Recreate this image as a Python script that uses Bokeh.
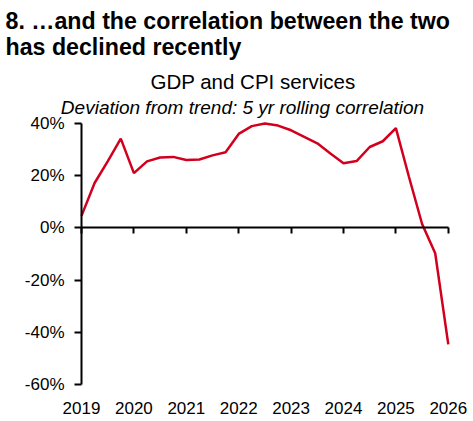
from bokeh.plotting import figure
from bokeh.models import (LinearAxis, FixedTicker, PrintfTickFormatter, Range1d,
                          Label, ColumnDataSource)
from bokeh.embed import file_html
from bokeh.resources import INLINE

# ---- data ----
quarters = ["2019Q1", "2019Q2", "2019Q3", "2019Q4",
            "2020Q1", "2020Q2", "2020Q3", "2020Q4",
            "2021Q1", "2021Q2", "2021Q3", "2021Q4",
            "2022Q1", "2022Q2", "2022Q3", "2022Q4",
            "2023Q1", "2023Q2", "2023Q3", "2023Q4",
            "2024Q1", "2024Q2", "2024Q3", "2024Q4",
            "2025Q1", "2025Q2", "2025Q3", "2025Q4",
            "2026Q1"]
correlation = [4.6, 17.2, 25.5, 34.2,
               21.0, 25.5, 27.0, 27.2,
               26.0, 26.2, 27.8, 29.0,
               36.0, 39.0, 40.0, 39.2,
               37.4, 34.9, 32.4, 28.5,
               24.8, 25.6, 31.0, 33.2,
               38.2, 19.5, 1.5, -9.7,
               -44.6]
year_ticks = [2019, 2020, 2021, 2022, 2023, 2024, 2025, 2026]
pct_ticks = [-60, -40, -20, 0, 20, 40]

title_lines = ["8. \u2026and the correlation between the two",
               "has declined recently"]
chart_title = "GDP and CPI services"
chart_subtitle = "Deviation from trend: 5 yr rolling correlation"

# decimal-year positions for each quarter
xpos = [int(q[:4]) + (int(q[5]) - 1) / 4 for q in quarters]
src = ColumnDataSource(dict(x=xpos, y=correlation))

FONT = "Liberation Sans"
RED = "#d2001e"

W, H = 473, 421
# pixel layout of the plotting area
PX_X0, PX_X1 = 81.0, 447.8      # pixel of 2019 and 2026
PX_Y40, PX_Ym60 = 123.0, 384.0  # pixel of +40% and -60%
sx = (PX_X1 - PX_X0) / (2026 - 2019)
sy = (PX_Ym60 - PX_Y40) / 100.0
x_start = 2019 - PX_X0 / sx
x_end = 2019 + (W - PX_X0) / sx
y_end = 40 + PX_Y40 / sy
y_start = -60 - (H - PX_Ym60) / sy

p = figure(width=W, height=H, output_backend="svg", toolbar_location=None,
           x_axis_location=None, y_axis_location=None,
           x_range=Range1d(x_start, x_end), y_range=Range1d(y_start, y_end),
           min_border=0, min_border_left=0, min_border_right=0,
           min_border_top=0, min_border_bottom=0)
p.outline_line_color = None
p.xgrid.visible = False
p.ygrid.visible = False
p.background_fill_color = "white"
p.border_fill_color = "white"

# y axis
yax = LinearAxis(ticker=FixedTicker(ticks=pct_ticks),
                 formatter=PrintfTickFormatter(format="%d%%"),
                 fixed_location=2019, bounds=(-60, 40))
yax.axis_line_width = 2
yax.major_tick_line_width = 2
yax.major_tick_out = 7
yax.major_tick_in = 0
yax.minor_tick_line_color = None
yax.major_label_standoff = 10
yax.major_label_text_font = FONT
yax.major_label_text_font_size = "17px"
yax.major_label_text_color = "black"
p.add_layout(yax, "left")

# x axis line at zero with downward ticks
zax = LinearAxis(ticker=FixedTicker(ticks=year_ticks), fixed_location=0,
                 bounds=(2019, 2026))
zax.axis_line_width = 2
zax.major_tick_line_width = 2
zax.major_tick_out = 6
zax.major_tick_in = 0
zax.minor_tick_line_color = None
zax.major_label_text_color = None
zax.major_label_text_font_size = "1px"
p.add_layout(zax, "below")

# year labels at the bottom
lax = LinearAxis(ticker=FixedTicker(ticks=year_ticks), fixed_location=-60,
                 bounds=(2019, 2026))
lax.axis_line_color = None
lax.major_tick_line_color = None
lax.minor_tick_line_color = None
lax.major_tick_out = 0
lax.major_tick_in = 0
lax.major_label_standoff = 17
lax.major_label_text_font = FONT
lax.major_label_text_font_size = "17px"
lax.major_label_text_color = "black"
p.add_layout(lax, "below")

p.line("x", "y", source=src, line_color=RED, line_width=2.5)

# titles (screen units: x from left, y up from bottom)
def add_text(x, baseline_px, text, size, style="normal", align="left"):
    p.add_layout(Label(x=x, y=H - baseline_px, x_units="screen", y_units="screen",
                       text=text, text_font=FONT, text_font_style=style,
                       text_font_size=size, text_color="black",
                       text_baseline="alphabetic", text_align=align))

add_text(5, 20, title_lines[0], "23.2px", "bold")
add_text(5, 46, title_lines[1], "23.2px", "bold")
add_text(252.5, 80.5, chart_title, "20.5px", "normal", "center")
add_text(242, 106.5, chart_subtitle, "19px", "italic", "center")

open("out.html", "w").write(file_html(p, INLINE))
